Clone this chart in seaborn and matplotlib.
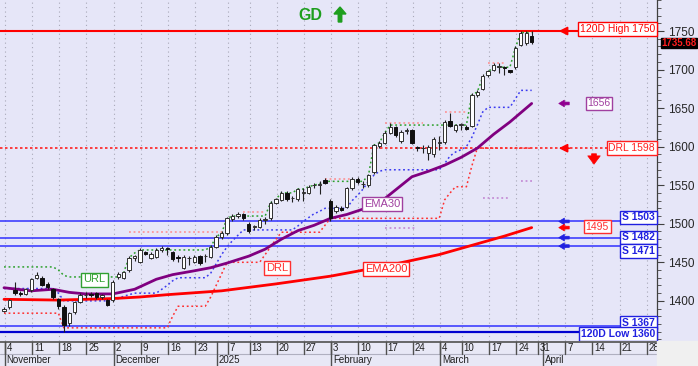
import numpy as np
import pandas as pd
import matplotlib
matplotlib.use("Agg")
import matplotlib.pyplot as plt
from matplotlib.ticker import MultipleLocator
import seaborn as sns

sns.set_theme(style="white")
plt.rcParams["font.family"] = ["Liberation Sans", "DejaVu Sans"]

# ---------------- data ----------------
holidays = ["2024-12-25", "2024-12-26", "2024-12-31", "2025-01-01",
            "2025-01-06", "2025-03-03", "2025-03-25"]
week_ticks = ["2024-11-04", "2024-11-11", "2024-11-18", "2024-11-25", "2024-12-02",
              "2024-12-09", "2024-12-16", "2024-12-23", "2025-01-07", "2025-01-13",
              "2025-01-20", "2025-01-27", "2025-02-03", "2025-02-10", "2025-02-17",
              "2025-02-24", "2025-03-04", "2025-03-10", "2025-03-17", "2025-03-24",
              "2025-03-31", "2025-04-07", "2025-04-14", "2025-04-21", "2025-04-28"]
month_starts = ["2024-11-04", "2024-12-02", "2025-01-02", "2025-02-03", "2025-03-04", "2025-04-01"]
month_labels = ["November", "December", "2025", "February", "March", "April"]

opens = [1387, 1392, 1414, 1410, 1409, 1414, 1430, 1430, 1422, 1415,
         1402, 1392, 1371, 1385, 1399, 1407, 1409, 1410, 1405, 1401,
         1401, 1431, 1430, 1440, 1456, 1451, 1463, 1456, 1457, 1466,
         1468, 1463, 1457, 1443, 1455, 1451, 1458, 1458, 1457, 1470,
         1483, 1488, 1506, 1510, 1512, 1500, 1496, 1496, 1505, 1507,
         1527, 1531, 1540, 1533, 1532, 1540, 1540, 1550, 1550, 1557,
         1530, 1517, 1521, 1522, 1546, 1558, 1551, 1550, 1567, 1601,
         1605, 1618, 1625, 1607, 1620, 1621, 1599, 1598, 1592, 1590,
         1605, 1606, 1633, 1622, 1628, 1626, 1627, 1667, 1675, 1693,
         1700, 1703, 1703, 1699, 1703, 1732, 1734, 1743]
highs = [1392, 1403, 1424, 1413, 1417, 1430, 1437, 1432, 1424, 1417,
         1404, 1394, 1386, 1400, 1410, 1411, 1412, 1412, 1409, 1403,
         1427, 1437, 1439, 1458, 1460, 1468, 1465, 1463, 1468, 1471,
         1470, 1465, 1460, 1459, 1458, 1459, 1460, 1461, 1472, 1485,
         1491, 1509, 1512, 1515, 1514, 1502, 1499, 1507, 1509, 1529,
         1534, 1542, 1542, 1536, 1547, 1546, 1550, 1553, 1555, 1559,
         1532, 1524, 1523, 1548, 1560, 1560, 1556, 1565, 1604, 1607,
         1620, 1631, 1627, 1621, 1624, 1623, 1601, 1602, 1602, 1612,
         1614, 1634, 1644, 1630, 1631, 1628, 1669, 1674, 1694, 1700,
         1708, 1708, 1705, 1700, 1730, 1750, 1750, 1750]
lows = [1385, 1390, 1408, 1406, 1407, 1412, 1428, 1419, 1416, 1403,
        1390, 1360, 1368, 1383, 1397, 1404, 1405, 1403, 1403, 1393,
        1399, 1428, 1428, 1438, 1452, 1449, 1459, 1454, 1455, 1464,
        1460, 1452, 1450, 1441, 1446, 1449, 1447, 1450, 1455, 1468,
        1480, 1486, 1503, 1508, 1505, 1488, 1492, 1494, 1500, 1505,
        1525, 1529, 1530, 1528, 1530, 1530, 1538, 1546, 1538, 1551,
        1503, 1514, 1516, 1520, 1544, 1552, 1546, 1548, 1565, 1598,
        1603, 1616, 1613, 1605, 1617, 1603, 1595, 1592, 1583, 1587,
        1596, 1604, 1625, 1619, 1622, 1621, 1625, 1665, 1673, 1690,
        1698, 1695, 1693, 1696, 1701, 1730, 1732, 1733]
closes = [1390, 1401, 1410, 1409, 1415, 1428, 1434, 1421, 1418, 1405,
          1393, 1369, 1384, 1398, 1408, 1408, 1407, 1405, 1407, 1395,
          1425, 1435, 1437, 1456, 1458, 1466, 1461, 1461, 1466, 1469,
          1467, 1454, 1456, 1457, 1455, 1457, 1449, 1458, 1470, 1483,
          1488, 1507, 1510, 1513, 1507, 1490, 1496, 1505, 1506, 1527,
          1532, 1540, 1532, 1533, 1545, 1540, 1548, 1550, 1552, 1553,
          1508, 1522, 1518, 1546, 1558, 1554, 1551, 1563, 1602, 1605,
          1618, 1625, 1615, 1619, 1622, 1605, 1598, 1598, 1600, 1610,
          1605, 1632, 1627, 1628, 1628, 1623, 1667, 1671, 1692, 1698,
          1706, 1704, 1702, 1697, 1728, 1748, 1747, 1735.68]

ema30_day = [0, 5, 9, 12, 15, 20, 24, 28, 31, 35, 38, 41, 45, 48, 51, 54, 57, 60,
             63, 66, 69, 72, 75, 78, 81, 84, 87, 90, 93, 95, 97]
ema30_val = [1417, 1413, 1415, 1411, 1409, 1409, 1415, 1428, 1434, 1439, 1443, 1449,
             1458, 1467, 1480, 1491, 1498, 1507, 1512, 1519, 1527, 1544, 1561, 1568,
             1576, 1586, 1598, 1616, 1632, 1644, 1656]
ema200_day = [0, 10, 20, 25, 30, 40, 50, 60, 70, 80, 87, 92, 97]
ema200_val = [1402, 1401, 1403, 1405, 1408, 1413, 1422, 1432, 1445, 1460, 1474, 1484, 1495]

blue_band = [1416, 1416, 1416, 1416, 1416, 1416, 1416, 1416, 1416, 1416,
             1410, 1400, 1400, 1400, 1400, 1400, 1400, 1400, 1400, 1400,
             1401, 1403, 1406, 1408, 1410, 1410, 1410, 1410, 1410, 1415,
             1420, 1426, 1430, 1430, 1430, 1430, 1430, 1430, 1436, 1448,
             1460, 1470, 1478, 1485, 1492, 1492, 1492, 1492, 1492, 1492,
             1492, 1492, 1492, 1492, 1497, 1503, 1508, 1513, 1516, 1520,
             1520, 1520, 1520, 1520, 1530, 1537, 1545, 1555, 1563, 1568,
             1570, 1570, 1570, 1570, 1570, 1570, 1570, 1570, 1570, 1570,
             1570, 1578, 1588, 1593, 1596, 1600, 1612, 1628, 1645, 1651,
             1651, 1651, 1651, 1651, 1662, 1673, 1673, 1673]
green_url = [1444, 1444, 1444, 1444, 1444, 1444, 1444, 1444, 1444, 1444,
             1440, 1433, 1431, 1431, 1431, 1431, 1431, 1431, 1431, 1431,
             1431, 1431, 1437, 1456, 1462, 1466, 1466, 1466, 1466, 1466,
             1466, 1466, 1466, 1466, 1466, 1466, 1466, 1466, 1470, 1483,
             1488, 1507, 1510, 1510, 1510, 1510, 1510, 1510, 1510, 1527,
             1532, 1540, 1540, 1540, 1545, 1545, 1548, 1550, 1552, 1555,
             1555, 1555, 1555, 1555, 1555, 1555, 1555, 1563, 1602, 1605,
             1618, 1628, 1628, 1628, 1628, 1628, 1628, 1628, 1628, 1628,
             1628, 1628, 1628, 1628, 1628, 1628, 1667, 1671, 1690, 1697,
             1703, 1703, 1703, 1703, 1728, 1748, 1748, 1748]
red_drl = [1384, 1384, 1384, 1384, 1384, 1384, 1384, 1384, 1384, 1384,
           1384, 1365, 1365, 1365, 1365, 1365, 1365, 1365, 1365, 1365,
           1365, 1365, 1365, 1365, 1365, 1365, 1365, 1365, 1365, 1365,
           1365, 1380, 1393, 1393, 1393, 1393, 1393, 1393, 1405, 1420,
           1435, 1450, 1450, 1450, 1450, 1450, 1450, 1450, 1460, 1470,
           1480, 1489, 1489, 1489, 1489, 1489, 1489, 1489, 1489, 1498,
           1507, 1507, 1507, 1507, 1507, 1507, 1507, 1507, 1507, 1507,
           1507, 1507, 1507, 1507, 1507, 1507, 1507, 1507, 1507, 1507,
           1507, 1531, 1540, 1548, 1548, 1548, 1575, 1598, 1598, 1598,
           1598, 1598, 1598, 1598, 1598, 1598, 1598, 1598]
nan = np.nan
pink_high = [nan] * 23 + [1489] * 18 + [nan] * 3 + [1515] * 5 + [nan] * 10 + [1558] * 6 + \
            [nan] * 5 + [1631] * 8 + [nan] * 3 + [1645] * 5 + [nan] * 3 + [1708] * 4 + [nan] * 5
lilac_low = [nan] * 70 + [1494] * 7 + [nan] * 11 + [1533] * 6 + [nan] + [1555] * 3

high120, low120 = 1750, 1360
drl_level = 1598
supports = [1503, 1482, 1471, 1367]
last_price = 1735.68
ema30_last, ema200_last = 1656, 1495

# ---------------- calendar ----------------
days = pd.bdate_range("2024-11-04", "2025-04-30")
dates = [d for d in days if d.strftime("%Y-%m-%d") not in holidays]
pos = {d.strftime("%Y-%m-%d"): i for i, d in enumerate(dates)}
n = len(closes)
idx = np.arange(n)

# ---------------- figure ----------------
W, H = 698, 366
BG = "#E6E6F8"
fig = plt.figure(figsize=(W / 100, H / 100), dpi=100, facecolor=BG)
plot_bottom = 341
ax = fig.add_axes([0, (H - plot_bottom) / H, 657 / W, plot_bottom / H])
ax.set_facecolor(BG)

def px2x(px):
    return (px - 4) / 5.44

def py2p(py):
    return 1750 - (py - 31) / 0.771

ax.set_xlim(px2x(0), px2x(657))
ax.set_ylim(py2p(plot_bottom), py2p(0))

# grid
for d in week_ticks:
    ax.axvline(pos[d] + 0.15, color="#A8A8B8", lw=0.8, ls=(0, (1, 3)), zorder=0)

# horizontal levels
ax.axhline(high120, color="#FF0000", lw=1.5, zorder=2)
for s in supports[:3]:
    ax.axhline(s, color="#3030FF", lw=1.1, zorder=2)
ax.axhline(supports[3], color="#3030FF", lw=1.1, zorder=2)
ax.axhline(low120, color="#0000D0", lw=1.6, zorder=2)
ax.axhline(drl_level, color="#FF2020", lw=1.2, ls=(0, (1.5, 1.5)), zorder=2)

# dotted bands
dot = (0, (1.2, 1.8))
sns.lineplot(x=idx, y=blue_band, ax=ax, color="#3A3AF0", lw=1.1, linestyle=dot, zorder=3)
sns.lineplot(x=idx, y=green_url, ax=ax, color="#2CA02C", lw=1.1, linestyle=dot, zorder=3)
sns.lineplot(x=idx, y=red_drl, ax=ax, color="#FF3030", lw=1.1, linestyle=dot, zorder=3)
ax.plot(idx, pink_high, color="#FF8A8A", lw=1.1, linestyle=dot, zorder=3)
ax.plot(idx, lilac_low, color="#C080D0", lw=1.1, linestyle=dot, zorder=3)

# EMAs
sns.lineplot(x=ema200_day, y=ema200_val, ax=ax, color="#FF0000", lw=2.0, zorder=4)
sns.lineplot(x=ema30_day, y=ema30_val, ax=ax, color="#800080", lw=2.0, zorder=4)

# candles
o = np.array(opens); c = np.array(closes); h = np.array(highs); l = np.array(lows)
ax.vlines(idx, l, h, color="#202020", lw=0.8, zorder=5)
up = c >= o
body_lo = np.minimum(o, c)
body_h = np.maximum(np.abs(c - o), 0.8)
ax.bar(idx[up], body_h[up], bottom=body_lo[up], width=0.62, color="white",
       edgecolor="#303030", linewidth=0.7, zorder=6)
ax.bar(idx[~up], body_h[~up], bottom=body_lo[~up], width=0.62, color="#101010",
       edgecolor="#101010", linewidth=0.7, zorder=6)

# right axis
ax.yaxis.tick_right()
ax.set_yticks(np.arange(1400, 1751, 50))
ax.yaxis.set_minor_locator(MultipleLocator(10))
ax.tick_params(axis="y", which="major", direction="out", length=5, width=0.8,
               color="#404040", labelsize=8.5, pad=3, right=True, labelright=True)
ax.tick_params(axis="y", which="minor", direction="out", length=3, width=0.6,
               color="#404040", right=True)
ax.set_xticks([])
for side in ["left", "top", "bottom"]:
    ax.spines[side].set_visible(False)
ax.spines["right"].set_color("#404040")
ax.spines["right"].set_linewidth(0.9)

# ---------------- labels ----------------
def box(text, x, y, color, ha="right", bold=False, fs=7.5):
    ax.text(x, y, text, color=color, ha=ha, va="center", fontsize=fs,
            fontweight="bold" if bold else "normal", zorder=10,
            bbox=dict(boxstyle="square,pad=0.18", fc="white", ec=color, lw=1.0))

def arrow(y, color, thick=False):
    ax.annotate("", xy=(px2x(556), y), xytext=(px2x(572), y),
                arrowprops=dict(arrowstyle="simple,head_width=0.6,head_length=0.5,tail_width=0.25" if thick
                                else "-|>,head_width=0.25,head_length=0.5",
                                color=color, lw=1.2 if not thick else 0.5,
                                mutation_scale=8 if thick else 10), zorder=10)

xr = px2x(655)
box(f"120D High {high120}", xr, py2p(29), "#FF0000")
arrow(high120, "#FF0000")
box(f"{ema30_last}", px2x(599), ema30_last, "#A040A0", ha="center")
arrow(ema30_last, "#900090", thick=True)
box(f"DRL {drl_level}", xr, drl_level, "#FF2020")
arrow(drl_level, "#FF0000")
ax.annotate("", xy=(px2x(594), py2p(167)), xytext=(px2x(594), py2p(151)),
            arrowprops=dict(arrowstyle="simple,head_width=0.9,head_length=0.6,tail_width=0.35",
                            color="#FF0000", mutation_scale=10, lw=0.5), zorder=10)
box(f"S {supports[0]}", xr, py2p(217.5), "#2020E0", bold=True)
box(f"S {supports[1]}", xr, py2p(237.5), "#2020E0", bold=True)
box(f"S {supports[2]}", xr, py2p(251), "#2020E0", bold=True)
box(f"S {supports[3]}", xr, py2p(322.5), "#2020E0", bold=True)
box(f"120D Low {low120}", xr, py2p(334), "#2020E0", bold=True)
box(f"{ema200_last}", px2x(597), py2p(226.5), "#FF3030", ha="center")
arrow(supports[0], "#2020E0", thick=True)
arrow(ema200_last, "#FF0000", thick=True)
arrow(supports[1], "#2020E0", thick=True)
arrow(supports[2], "#2020E0", thick=True)

box("URL", px2x(94.5), py2p(279.5), "#30A030", ha="center", fs=8)
box("DRL", px2x(277), py2p(268), "#FF3030", ha="center", fs=8)
box("EMA30", px2x(382), py2p(204), "#A040A0", ha="center", fs=8)
box("EMA200", px2x(386), py2p(268.5), "#FF2020", ha="center", fs=8)

# title
fig.text(310 / W, 1 - 15 / H, "GD", color="#1E9E1E", fontsize=11.5, fontweight="bold",
         ha="center", va="center")
fig.patches.append(matplotlib.patches.FancyArrow(
    340 / W, 1 - 22 / H, 0, 15 / H, width=3.5 / W, head_width=12 / W, head_length=7 / H,
    length_includes_head=True, color="#1E9E1E", transform=fig.transFigure, figure=fig))

# last price tag (clipped at the right edge, as in the reference)
fig.text(661 / W, 1 - 43 / H, f"{last_price:.2f}", color="#FF2020", fontsize=7,
         fontweight="bold", ha="left", va="center",
         bbox=dict(boxstyle="square,pad=0.05", fc="black", ec="black"))

# ---------------- date band ----------------
fig.patches.append(matplotlib.patches.Rectangle((657 / W, 0), 41 / W, (H - plot_bottom) / H,
                                                transform=fig.transFigure, color="#F0F0F0",
                                                figure=fig, zorder=0))
ax2 = fig.add_axes([0, 0, 657 / W, (H - plot_bottom) / H])
ax2.set_facecolor("#E8E8F6")
ax2.set_xlim(ax.get_xlim())
ax2.set_ylim(0, 1)
ax2.axis("off")
ax2.add_patch(matplotlib.patches.Rectangle((px2x(0), 0), px2x(657) - px2x(0), 1,
                                           color="#E8E8F6", zorder=0))
split = 0.5
ax2.axhline(0.96, color="#505050", lw=1.2)
ax2.axhline(split, color="#B0B0C0", lw=0.8)
for d in week_ticks:
    x = pos[d] + 0.15
    ax2.plot([x, x], [split, 0.96], color="#505050", lw=1.0)
    ax2.text(x + 0.35, (split + 0.96) / 2, str(int(d[-2:])), fontsize=7, ha="left",
             va="center", color="#202020")
for d, lab in zip(month_starts, month_labels):
    x = pos[d] + 0.15
    ax2.plot([x, x], [0, 0.96], color="#505050", lw=1.0)
    ax2.text(x + 0.35, split / 2, lab, fontsize=7, ha="left", va="center", color="#202020")

fig.savefig("out.png", dpi=100, facecolor=BG)
